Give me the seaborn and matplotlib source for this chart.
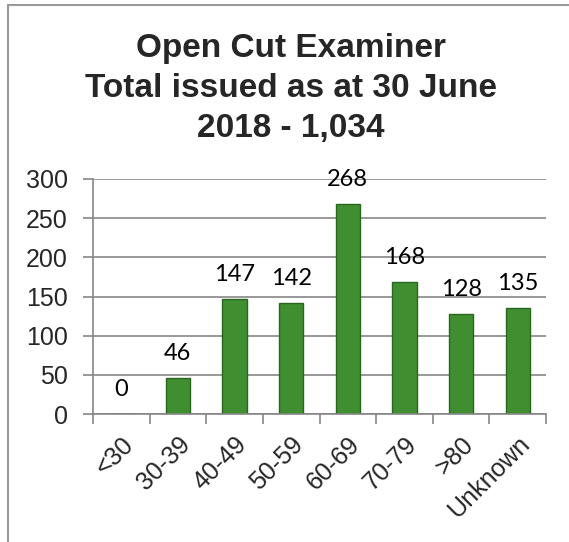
import matplotlib
matplotlib.use('Agg')
import matplotlib.pyplot as plt
import matplotlib.lines as mlines
import pandas as pd
import seaborn as sns

# Chart data
age_groups = ['<30', '30-39', '40-49', '50-59', '60-69', '70-79', '>80', 'Unknown']
issued = [0, 46, 147, 142, 268, 168, 128, 135]
y_ticks = [0, 50, 100, 150, 200, 250, 300]
title = 'Open Cut Examiner\nTotal issued as at 30 June\n2018 - 1,034'

df = pd.DataFrame({'age': age_groups, 'issued': issued})

sns.set_theme(style='white')
plt.rcParams['font.family'] = ['Liberation Sans', 'DejaVu Sans']

fig = plt.figure(figsize=(5.69, 5.42), dpi=100)
ax = fig.add_axes([93 / 569, 1 - 414 / 542, 453 / 569, 235 / 542])

sns.barplot(data=df, x='age', y='issued', color='#3f8f31', width=0.43,
            edgecolor='#2b6620', linewidth=1.0, saturation=1, ax=ax)

# bar value labels
for i, v in enumerate(issued):
    ax.text(i, v + 18, str(v), ha='center', va='bottom', fontsize=17,
            family=['Lato', 'DejaVu Sans'], color='black')

ax.set_xlim(-0.5, len(age_groups) - 0.5)
ax.set_ylim(0, 300)
ax.set_yticks(y_ticks)
ax.set_yticklabels([str(t) for t in y_ticks], fontsize=18)
ax.yaxis.grid(True, color='#868686', linewidth=1.2)
ax.set_axisbelow(True)

# category labels at bar centers, tick marks at boundaries
ax.set_xticks(range(len(age_groups)))
ax.set_xticklabels(age_groups, rotation=45, ha='right', rotation_mode='anchor', fontsize=18)
ax.set_xticks([i - 0.5 for i in range(len(age_groups) + 1)], minor=True)
ax.tick_params(axis='x', which='major', length=0, pad=13)
ax.tick_params(axis='x', which='minor', length=7, width=1.2, color='#868686', bottom=True)
ax.tick_params(axis='y', length=7, width=1.2, color='#868686', left=True, pad=11)

ax.set_xlabel('')
ax.set_ylabel('')
for side in ['top', 'right']:
    ax.spines[side].set_visible(False)
for side in ['left', 'bottom']:
    ax.spines[side].set_color('#868686')
    ax.spines[side].set_linewidth(1.2)

fig.text(291 / 569, 1 - 33 / 542, title, ha='center', va='top', fontsize=24,
         fontweight='bold', linespacing=1.37)

# outer chart frame (partly cropped)
fig.add_artist(mlines.Line2D([8 / 569, 8 / 569], [0, 1 - 5 / 542], color='#9a9a9a', lw=1.5))
fig.add_artist(mlines.Line2D([8 / 569, 1], [1 - 5 / 542, 1 - 5 / 542], color='#9a9a9a', lw=1.5))

fig.savefig('out.png', dpi=100)
